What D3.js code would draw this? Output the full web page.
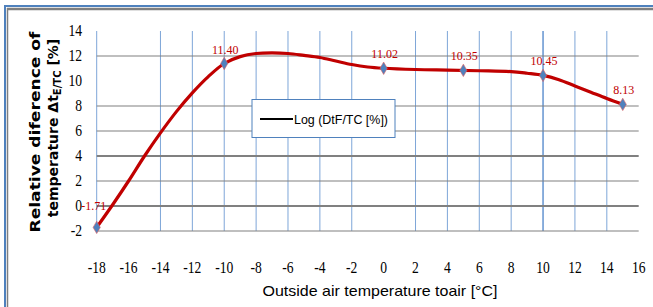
<!DOCTYPE html>
<html><head><meta charset="utf-8">
<script src="https://cdn.jsdelivr.net/npm/d3@7/dist/d3.min.js"></script>
<style>body{margin:0;background:#fff}svg{display:block}.serif{font-family:"Liberation Serif","Times New Roman",Times,serif}</style>
</head><body><svg id="c" width="653" height="307"></svg>
<script>
// data
const pointX = [-18, -10, 0, 5, 10, 15];
const pointY = [-1.71, 11.40, 11.02, 10.85, 10.45, 8.13];
const pointLabels = ["-1.71", "11.40", "11.02", "10.35", "10.45", "8.13"];
const curveX = [-18,-17,-16,-15,-14,-13,-12,-11,-10,-9,-8,-7,-6,-5,-4,-3,-2,-1,0,2,4,6,8,9,10,11,12,13,14,15];
const curveY = [-1.71,0.1,2.0,4.0,5.85,7.55,9.05,10.35,11.4,11.95,12.2,12.25,12.2,12.05,11.88,11.6,11.32,11.12,11.02,10.92,10.87,10.82,10.75,10.62,10.45,10.1,9.6,9.1,8.6,8.13];
const xTicks = [-18,-16,-14,-12,-10,-8,-6,-4,-2,0,2,4,6,8,10,12,14,16];
const yTicks = [-2,0,2,4,6,8,10,12,14];
const xGrid = [-18,-14,-12,-10,-8,-6,-4,-2,2,4,6,8,10,12,14];
const yGrid = [-2,0,2,4,6,8,12];
const yGridStrong = [0,4];
const legendLabel = "Log (DtF/TC [%])";

const svg = d3.select("#c");
const x = d3.scaleLinear().domain([-18,16]).range([96.7,638.7]);
const y = d3.scaleLinear().domain([-2,14]).range([231,31]);

// frame
svg.append("line").attr("x1",5).attr("x2",5).attr("y1",5).attr("y2",307).attr("stroke","#4f81bd").attr("stroke-width",2);
svg.append("line").attr("x1",4).attr("x2",653).attr("y1",6).attr("y2",6).attr("stroke","#4f81bd").attr("stroke-width",2);
svg.append("line").attr("x1",7.5).attr("x2",7.5).attr("y1",8).attr("y2",307).attr("stroke","#7f7f7f").attr("stroke-width",1.5);
svg.append("line").attr("x1",7).attr("x2",653).attr("y1",9).attr("y2",9).attr("stroke","#7f7f7f").attr("stroke-width",2.5);

// grid
svg.append("g").selectAll("line").data(xGrid).join("line")
  .attr("x1",d=>x(d)).attr("x2",d=>x(d)).attr("y1",y(14)).attr("y2",y(-2))
  .attr("stroke","#7ea6d8").attr("stroke-width",d=>d===10?1.8:1);
svg.append("g").selectAll("line").data(yGrid).join("line")
  .attr("x1",x(-18)).attr("x2",x(16)).attr("y1",d=>y(d)).attr("y2",d=>y(d))
  .attr("stroke","#808080").attr("stroke-width",d=>yGridStrong.includes(d)?2:1.2);

// tick labels
svg.append("g").selectAll("text").data(yTicks).join("text").attr("class","serif")
  .attr("x",82).attr("y",d=>y(d)+5).attr("text-anchor","end")
  .attr("font-size",16).attr("fill","#000")
  .attr("transform",d=>`translate(${82*0.15},0) scale(0.85,1)`)
  .text(d=>d);
svg.append("g").selectAll("text").data(xTicks).join("text").attr("class","serif")
  .attr("x",d=>x(d)/0.85).attr("y",273).attr("text-anchor","middle")
  .attr("font-size",16).attr("fill","#000")
  .attr("transform","scale(0.85,1)")
  .text(d=>d);

// axis titles
svg.append("text").attr("x",380).attr("y",296).attr("text-anchor","middle")
  .attr("font-family","Liberation Sans").attr("font-size",15).attr("fill","#000")
  .attr("textLength",235).attr("lengthAdjust","spacingAndGlyphs")
  .text("Outside air temperature toair [°C]");
const yt = svg.append("g").attr("transform","translate(0,132) rotate(-90)");
yt.append("text").attr("x",0).attr("y",40).attr("text-anchor","middle")
  .attr("font-family","DejaVu Sans").attr("font-weight","bold").attr("font-size",14).attr("fill","#000")
  .attr("textLength",201).attr("lengthAdjust","spacingAndGlyphs")
  .text("Relative diference of");
const t2 = yt.append("text").attr("x",4).attr("y",58).attr("text-anchor","middle")
  .attr("font-family","DejaVu Sans").attr("font-weight","bold").attr("font-size",14).attr("fill","#000");
t2.append("tspan").text("temperature Δt");
t2.append("tspan").attr("font-size",10).attr("dy",3).text("E/TC");
t2.append("tspan").attr("dy",-3).text(" [%]");

// curve
const line = d3.line().x(d=>x(d[0])).y(d=>y(d[1])).curve(d3.curveCatmullRom);
svg.append("path").datum(curveX.map((v,i)=>[v,curveY[i]]))
  .attr("d",line).attr("fill","none").attr("stroke","#c00000").attr("stroke-width",3.2).attr("stroke-linejoin","round");

// markers
svg.append("g").selectAll("path").data(pointX.map((v,i)=>[v,pointY[i]])).join("path")
  .attr("d",d3.symbol(d3.symbolDiamond,45))
  .attr("transform",d=>`translate(${x(d[0])},${y(d[1])})`)
  .attr("fill","#4f81bd").attr("stroke","#e06060").attr("stroke-width",0.6);

// labels
svg.append("g").selectAll("text").data(pointX.map((v,i)=>[v,pointY[i],pointLabels[i]])).join("text").attr("class","serif")
  .attr("x",(d,i)=>i===0?x(d[0])-3:x(d[0])+1)
  .attr("y",(d,i)=>i===0?y(d[1])-17:y(d[1])-10)
  .attr("text-anchor","middle")
  .attr("font-size",12).attr("fill","#c00000")
  .text(d=>d[2]);

// legend
svg.append("rect").attr("x",252).attr("y",99.5).attr("width",143).attr("height",38)
  .attr("fill","#fff").attr("stroke","#4f81bd").attr("stroke-width",1);
svg.append("line").attr("x1",260).attr("x2",293).attr("y1",119).attr("y2",119).attr("stroke","#000").attr("stroke-width",2);
svg.append("text").attr("x",294).attr("y",124).attr("font-family","Liberation Sans").attr("font-size",13)
  .attr("textLength",94).attr("lengthAdjust","spacingAndGlyphs").attr("fill","#000").text(legendLabel);
</script></body></html>
